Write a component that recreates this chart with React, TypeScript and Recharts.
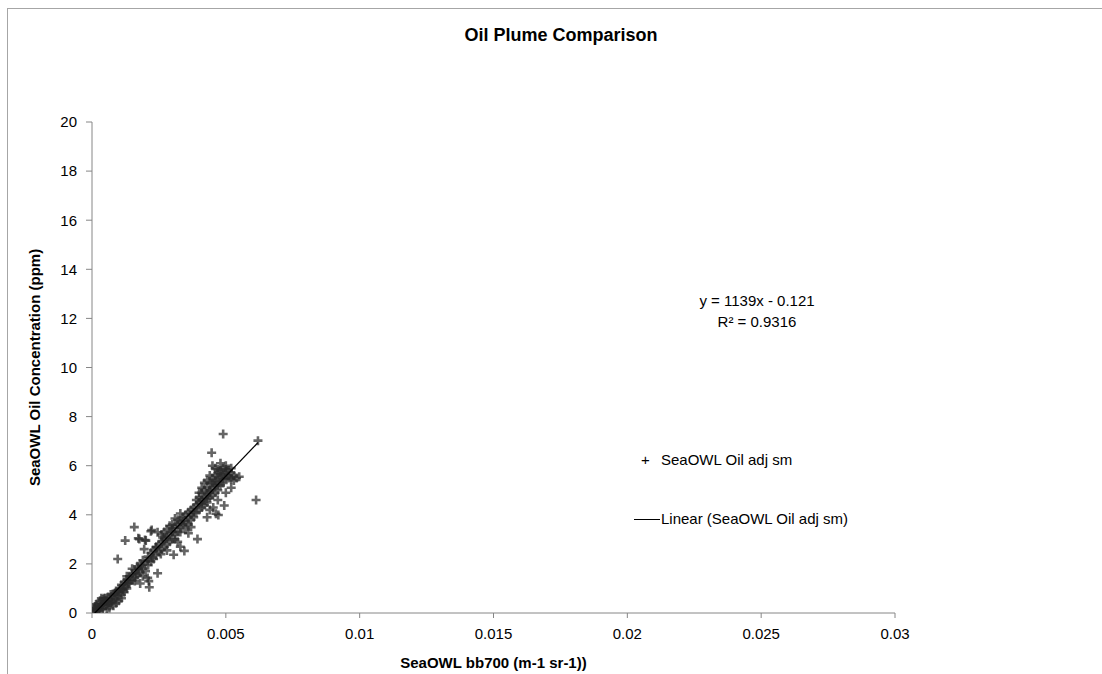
import React from 'react';
import { ScatterChart, Scatter, XAxis, YAxis, Legend } from 'recharts';

// SeaOWL bb700 (m-1 sr-1) values
const bb700: number[] = [
  0.00005, 0.0001, 0.00012, 0.00015, 0.0002, 0.0002, 0.00025, 0.0003, 0.0003, 0.00035,
  0.0004, 0.0004, 0.00045, 0.0005, 0.0005, 0.00055, 0.0006, 0.0006, 0.00065, 0.0007,
  0.0007, 0.00075, 0.0008, 0.0008, 0.00085, 0.0009, 0.0009, 0.00095, 0.001, 0.001,
  0.00105, 0.0011, 0.0011, 0.00115, 0.0012, 0.0012, 0.00125, 0.0013, 0.0013, 0.00135,
  0.00015, 0.00025, 0.0004, 0.00055, 0.0006, 0.00045,
  0.0001, 0.0003, 0.00035, 0.0005, 0.0007, 0.0008, 0.0009, 0.001, 0.0011, 0.0012,
  0.0013, 0.0014, 0.0015, 0.0016,
  0.0014, 0.0014, 0.0015, 0.0015, 0.0016, 0.0016, 0.00165, 0.0017, 0.0017, 0.00175,
  0.0018, 0.0018, 0.00185, 0.0019, 0.0019, 0.002, 0.002, 0.0021, 0.0021, 0.0022,
  0.0022, 0.0023, 0.0023, 0.0024, 0.0024, 0.0025, 0.0025,
  0.00096, 0.00124, 0.00158, 0.00214, 0.00212, 0.00245, 0.00208, 0.0018, 0.0019,
  0.00177, 0.00201, 0.0022, 0.00245, 0.00264, 0.00195, 0.00239, 0.00257, 0.00226, 0.00208,
  0.00173, 0.00198, 0.00223,
  0.0026, 0.0026, 0.0027, 0.0027, 0.0028, 0.0028, 0.0029, 0.0029, 0.003, 0.003,
  0.003, 0.0031, 0.0031, 0.0032, 0.0032, 0.0032, 0.0033, 0.0033, 0.0034, 0.0034,
  0.0035, 0.0035, 0.0036, 0.0036, 0.0037, 0.0037, 0.0038, 0.0038, 0.0029, 0.0031,
  0.0033, 0.0027,
  0.0026, 0.0028, 0.003, 0.0031, 0.0033, 0.0034, 0.0035, 0.0036, 0.0037, 0.0038,
  0.00305, 0.00345, 0.0033, 0.0028, 0.00394, 0.0037, 0.0036, 0.0032,
  0.0039, 0.0039, 0.004, 0.004, 0.004, 0.0041, 0.0041, 0.0041, 0.0042, 0.0042,
  0.0042, 0.0043, 0.0043, 0.0043, 0.0044, 0.0044, 0.0044, 0.0045, 0.0045, 0.0045,
  0.0046, 0.0046, 0.0046, 0.0047, 0.0047, 0.0047, 0.0048, 0.0048, 0.0048, 0.0049,
  0.0049, 0.0049, 0.005, 0.005, 0.005, 0.0051, 0.0051, 0.0052, 0.0052, 0.0053,
  0.0053, 0.0054, 0.0044, 0.0043, 0.0046, 0.0045, 0.0048, 0.0042, 0.0041,
  0.0039, 0.004, 0.0041, 0.0043, 0.0045, 0.0046, 0.0047, 0.0048, 0.0049, 0.005,
  0.0051, 0.0052, 0.0047, 0.0044,
  0.00463, 0.00494, 0.00472, 0.00453, 0.0047, 0.005, 0.0044, 0.0043, 0.0052,
  0.0049, 0.00447, 0.00613, 0.0062, 0.0055,
];

// SeaOWL Oil Concentration (ppm) values
const oilPpm: number[] = [
  0.05, 0.12, 0.2, 0.08, 0.3, 0.15, 0.4, 0.22, 0.5, 0.35,
  0.55, 0.18, 0.42, 0.3, 0.6, 0.5, 0.38, 0.65, 0.2, 0.55,
  0.75, 0.45, 0.62, 0.3, 0.8, 0.55, 0.9, 0.7, 0.85, 0.5,
  1.0, 0.75, 1.15, 0.95, 1.25, 0.85, 1.1, 1.35, 1.0, 1.2,
  0.35, 0.1, 0.35, 0.15, 0.5, 0.6,
  0.25, 0.1, 0.6, 0.45, 0.4, 0.75, 0.4, 0.95, 0.6, 1.0,
  1.5, 1.35, 1.8, 1.3,
  1.5, 1.2, 1.6, 1.35, 1.75, 1.45, 1.6, 1.9, 1.55, 1.8,
  2.0, 1.65, 1.9, 2.15, 1.8, 2.1, 1.7, 2.3, 1.95, 2.45,
  2.1, 2.55, 2.2, 2.7, 2.35, 2.8, 2.5,
  2.2, 2.95, 3.5, 1.05, 1.3, 1.62, 1.43, 1.2, 1.5,
  3.01, 2.95, 3.33, 3.29, 3.08, 2.6, 2.67, 2.4, 2.26, 2.12,
  3.04, 2.97, 3.38,
  2.9, 3.2, 3.0, 2.7, 3.1, 3.4, 3.2, 2.9, 3.3, 3.6,
  3.0, 3.5, 3.2, 3.6, 3.8, 3.3, 3.7, 3.5, 3.9, 3.6,
  4.0, 3.7, 4.1, 3.9, 4.2, 4.0, 4.3, 4.1, 3.55, 3.85,
  4.05, 3.3,
  2.6, 2.8, 3.45, 3.0, 3.3, 3.75, 3.4, 3.6, 3.8, 3.9,
  2.37, 2.53, 2.7, 2.55, 3.01, 3.5, 3.25, 2.9,
  4.4, 4.1, 4.5, 4.2, 4.7, 4.6, 4.3, 4.9, 4.7, 4.4,
  5.0, 4.8, 5.1, 4.5, 5.0, 5.3, 4.7, 5.1, 5.5, 4.8,
  5.2, 5.6, 4.9, 5.4, 5.7, 5.0, 5.5, 5.8, 5.2, 5.6,
  5.9, 5.3, 5.7, 5.5, 6.0, 5.8, 5.5, 5.7, 5.9, 5.6,
  5.4, 5.5, 5.6, 5.4, 5.9, 6.0, 6.1, 5.3, 5.1,
  4.6, 4.9, 4.45, 4.65, 5.3, 5.4, 5.2, 5.65, 5.45, 5.85,
  5.6, 5.45, 5.85, 4.9,
  4.04, 4.38, 3.99, 4.3, 4.6, 4.9, 4.2, 3.9, 5.1,
  7.29, 6.53, 4.6, 7.02, 5.55,
];

// Linear trend: y = 1139x - 0.121, drawn over the data range
const trendX: number[] = [0.0001, 0.0062];
const trendY: number[] = [-0.007, 6.941];

const xTicks: number[] = [0, 0.005, 0.01, 0.015, 0.02, 0.025, 0.03];
const yTicks: number[] = [0, 2, 4, 6, 8, 10, 12, 14, 16, 18, 20];

const points = bb700.map((x, i) => ({ x, y: oilPpm[i] }));
const trend = trendX.map((x, i) => ({ x, y: trendY[i] }));

const FONT = '"Liberation Sans", Arial, sans-serif';
const FS = 15;
const AXIS = '#868686';

const PlusShape = (props: any) => {
  const { cx, cy } = props;
  if (cx == null || cy == null) return null;
  const a = 4.5;
  return (
    <path
      d={`M${cx - a},${cy}H${cx + a}M${cx},${cy - a}V${cy + a}`}
      stroke="#2a2a2a"
      strokeOpacity={0.72}
      strokeWidth={2.6}
      fill="none"
    />
  );
};

const NoShape = () => null;

const LegendContent = () => (
  <div style={{ fontFamily: FONT, fontSize: FS, color: '#000', position: 'relative', width: 260, height: 80 }}>
    <div style={{ position: 'absolute', left: 7, top: 0, lineHeight: '20px' }}>+</div>
    <div style={{ position: 'absolute', left: 27, top: 0, lineHeight: '20px', whiteSpace: 'nowrap' }}>SeaOWL Oil adj sm</div>
    <div style={{ position: 'absolute', left: 0, top: 69, width: 26, height: 0, borderTop: '1px solid #000' }} />
    <div style={{ position: 'absolute', left: 27, top: 59, lineHeight: '20px', whiteSpace: 'nowrap' }}>Linear (SeaOWL Oil adj sm)</div>
  </div>
);

const YLabel = (props: any) => {
  const vb = props.viewBox || {};
  const cx = 34;
  const cy = (vb.y || 0) + (vb.height || 0) / 2;
  return (
    <text x={cx} y={cy} transform={`rotate(-90 ${cx} ${cy})`} textAnchor="middle" dominantBaseline="central"
      fontFamily={FONT} fontSize={FS} fontWeight="bold" fill="#000">
      SeaOWL Oil Concentration (ppm)
    </text>
  );
};

const XLabel = (props: any) => {
  const vb = props.viewBox || {};
  const cx = (vb.x || 0) + (vb.width || 0) / 2;
  return (
    <text x={cx} y={662} textAnchor="middle" dominantBaseline="central"
      fontFamily={FONT} fontSize={FS} fontWeight="bold" fill="#000">
      SeaOWL bb700 (m-1 sr-1))
    </text>
  );
};

export default function App() {
  return (
    <div style={{ position: 'fixed', left: 0, top: 0, width: 1102, height: 674, background: '#fff', overflow: 'hidden' }}>
      <div style={{ position: 'absolute', left: 7, top: 8, width: 1095, height: 666, borderTop: '1px solid #a6a6a6', borderLeft: '1px solid #a6a6a6', boxSizing: 'border-box', pointerEvents: 'none' }} />
      <div style={{ position: 'absolute', left: 361, width: 400, top: 24, lineHeight: '22px', textAlign: 'center', fontFamily: FONT, fontSize: 18, fontWeight: 'bold', color: '#000' }}>
        Oil Plume Comparison
      </div>
      <div style={{ position: 'absolute', left: 657, width: 200, top: 290, textAlign: 'center', fontFamily: FONT, fontSize: FS, lineHeight: '21px', color: '#000' }}>
        <div>y = 1139x - 0.121</div>
        <div>R² = 0.9316</div>
      </div>
      <ScatterChart width={1102} height={674} margin={{ top: 122, right: 207, bottom: 31, left: 32 }}>
        <XAxis
          type="number"
          dataKey="x"
          domain={[0, 0.03]}
          ticks={xTicks}
          tickFormatter={(v: number) => String(v)}
          stroke={AXIS}
          tickSize={5}
          tickMargin={10}
          height={30}
          tick={{ fill: '#000', fontFamily: FONT, fontSize: FS }}
          allowDataOverflow
          label={<XLabel />}
        />
        <YAxis
          type="number"
          dataKey="y"
          domain={[0, 20]}
          ticks={yTicks}
          stroke={AXIS}
          tickSize={6}
          tickMargin={9}
          width={60}
          tick={{ fill: '#000', fontFamily: FONT, fontSize: FS }}
          allowDataOverflow
          label={<YLabel />}
        />
        <Legend
          layout="horizontal"
          verticalAlign="middle"
          align="center"
          wrapperStyle={{ position: 'absolute', left: 634, top: 450, width: 260, height: 80 }}
          content={<LegendContent />}
        />
        <Scatter name="SeaOWL Oil adj sm" data={points} shape={<PlusShape />} isAnimationActive={false} />
        <Scatter
          name="Linear (SeaOWL Oil adj sm)"
          data={trend}
          line={{ stroke: '#000', strokeWidth: 1.3 }}
          shape={<NoShape />}
          isAnimationActive={false}
        />
      </ScatterChart>
    </div>
  );
}
